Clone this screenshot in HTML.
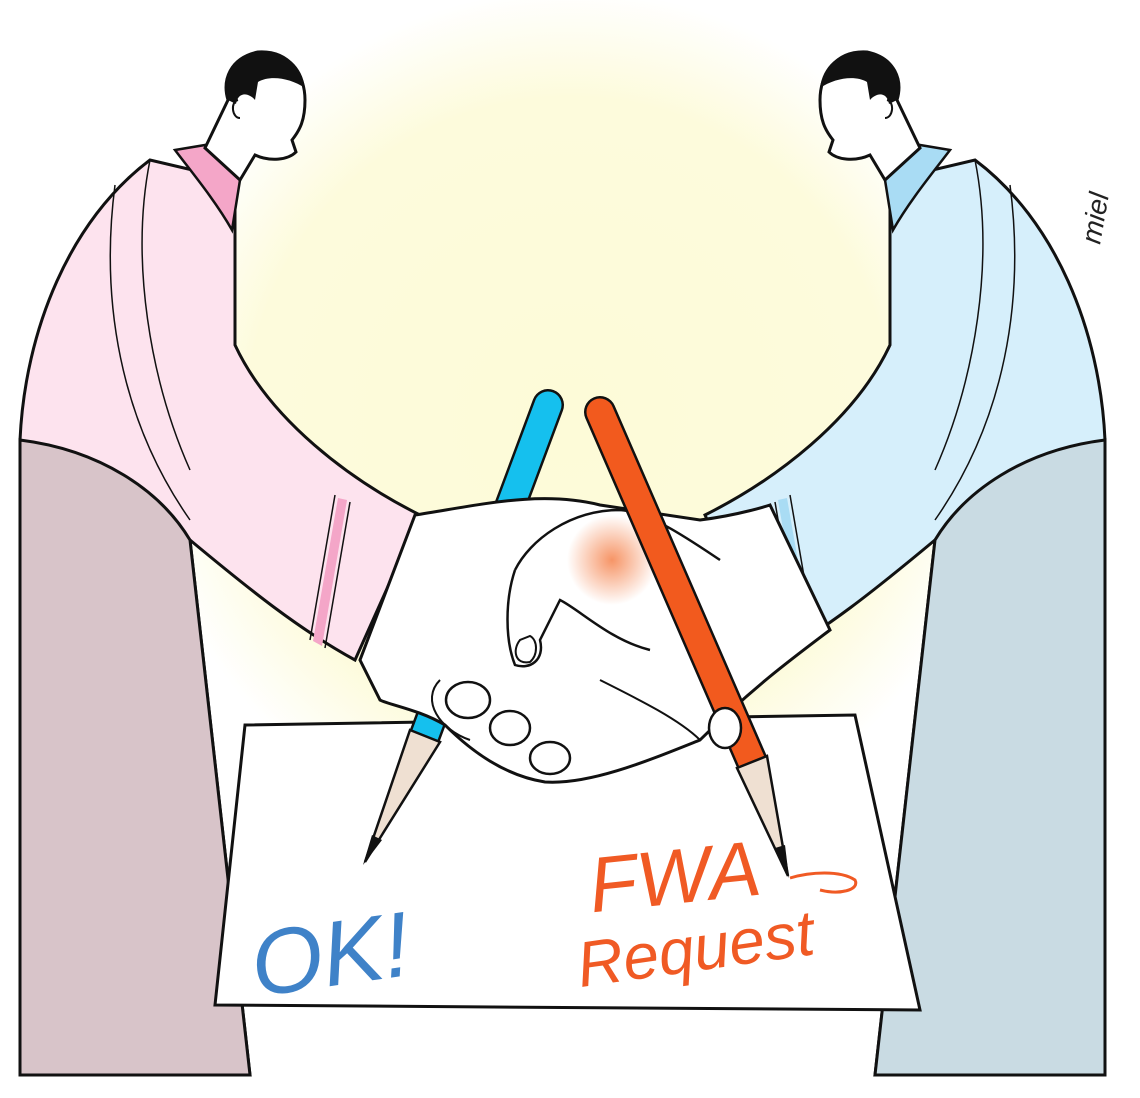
<!DOCTYPE html>
<html><head><meta charset="utf-8"><style>
html,body{margin:0;padding:0;background:#fff;}
svg{display:block;}
</style></head><body>
<svg width="1140" height="1098" viewBox="0 0 1140 1098" xmlns="http://www.w3.org/2000/svg">
<defs>
<radialGradient id="glow" cx="570" cy="420" r="430" gradientUnits="userSpaceOnUse">
<stop offset="0" stop-color="#fdfbd8"/><stop offset="0.75" stop-color="#fdfbdc"/><stop offset="1" stop-color="#ffffff"/>
</radialGradient>
<radialGradient id="og" cx="612" cy="560" r="45" gradientUnits="userSpaceOnUse">
<stop offset="0" stop-color="#f47a40" stop-opacity="0.8"/><stop offset="1" stop-color="#f47a40" stop-opacity="0"/>
</radialGradient>
<g id="fig">
<path d="M150,160 C70,220 25,330 20,440 L20,1075 L250,1075 L190,540 C250,590 300,630 355,660 L420,515 C350,480 270,420 235,345 L235,180 Z" fill="var(--top)" stroke="#111" stroke-width="3"/>
<path d="M20,440 C100,450 160,490 190,540 L250,1075 L20,1075 Z" fill="var(--low)" stroke="#111" stroke-width="3"/>
<path d="M150,160 C130,260 150,380 190,470" fill="none" stroke="#111" stroke-width="1.5"/>
<path d="M115,185 C100,300 120,420 190,520" fill="none" stroke="#111" stroke-width="1.5"/>
<path d="M335,495 L310,640 M350,502 L325,648" stroke="#111" stroke-width="1.5"/>
<path d="M338,498 L313,641 L322,646 L347,500 Z" fill="var(--col)"/>
<path d="M175,150 L205,145 L240,180 L232,230 C215,200 190,170 175,150 Z" fill="var(--col)" stroke="#111" stroke-width="2.5"/>
<path d="M205,148 L228,100 C222,80 230,58 258,52 C290,50 305,75 305,100 C305,120 300,130 292,140 L296,152 C288,160 270,162 255,155 L240,180 Z" fill="#fff" stroke="#111" stroke-width="3"/>
<path d="M228,100 C222,75 232,55 258,52 C285,50 302,65 305,88 C290,78 270,75 258,82 L255,100 C248,92 238,92 236,104 Z" fill="#111"/>
<path d="M238,100 C230,102 232,118 240,118" fill="none" stroke="#111" stroke-width="2"/>
</g>
</defs>
<rect width="1140" height="1098" fill="#fff"/>
<circle cx="570" cy="420" r="430" fill="url(#glow)"/>
<use href="#fig" style="--top:#fde3ee;--low:#d8c4c9;--col:#f4a6c8"/>
<use href="#fig" transform="translate(1125,0) scale(-1,1)" style="--top:#d6effb;--low:#c9dbe3;--col:#a9dcf4"/>
<!-- paper -->
<path d="M245,725 L855,715 L920,1010 L215,1005 Z" fill="#fff" stroke="#111" stroke-width="3"/>
<!-- blue pencil -->
<line x1="548" y1="405" x2="425" y2="735" stroke="#111" stroke-width="32" stroke-linecap="round"/>
<line x1="548" y1="405" x2="425" y2="735" stroke="#15c0ee" stroke-width="27" stroke-linecap="round"/>
<path d="M410,730 L440,742 L365,862 Z" fill="#efe0d2" stroke="#111" stroke-width="2.5"/>
<path d="M372,835 L382,840 L363,865 Z" fill="#111"/>
<!-- hands -->
<path d="M415,515 C480,505 540,490 600,505 L700,520 C740,515 770,505 770,505 L830,630 C790,660 750,690 700,740 C650,760 590,785 545,782 C500,775 465,745 445,725 C420,710 390,705 380,700 L360,660 Z" fill="#fff" stroke="#111" stroke-width="3"/>
<path d="M515,570 C530,540 570,510 620,510 C650,512 690,540 720,560" fill="none" stroke="#111" stroke-width="2.5"/>
<path d="M515,570 C505,600 505,640 515,665 C530,670 545,660 540,640 L560,600 C580,610 610,640 650,650" fill="none" stroke="#111" stroke-width="2.5"/>
<path d="M520,640 C512,650 515,665 530,662 C538,655 538,640 530,636 Z" fill="#fff" stroke="#111" stroke-width="2"/>
<ellipse cx="468" cy="700" rx="22" ry="18" fill="#fff" stroke="#111" stroke-width="2.5"/>
<ellipse cx="510" cy="728" rx="20" ry="17" fill="#fff" stroke="#111" stroke-width="2.5"/>
<ellipse cx="550" cy="758" rx="20" ry="16" fill="#fff" stroke="#111" stroke-width="2.5"/>
<path d="M600,680 C640,700 680,720 700,740" fill="none" stroke="#111" stroke-width="2"/>
<path d="M440,680 C420,700 440,730 470,740" fill="none" stroke="#111" stroke-width="2"/>
<circle cx="612" cy="560" r="45" fill="url(#og)"/>
<!-- orange pencil -->
<line x1="600" y1="412" x2="752" y2="762" stroke="#111" stroke-width="32" stroke-linecap="round"/>
<line x1="600" y1="412" x2="752" y2="762" stroke="#f25a1e" stroke-width="27" stroke-linecap="round"/>
<path d="M737,768 L767,756 L788,876 Z" fill="#efe0d2" stroke="#111" stroke-width="2.5"/>
<path d="M775,848 L785,845 L789,878 Z" fill="#111"/>
<ellipse cx="725" cy="728" rx="16" ry="20" fill="#fff" stroke="#111" stroke-width="2.5"/>
<!-- texts -->
<text x="250" y="990" font-family="Liberation Sans, sans-serif" font-style="italic" font-size="92" fill="#3f82c8" transform="rotate(-8 300 950)">OK!</text>
<text x="588" y="905" font-family="Liberation Sans, sans-serif" font-style="italic" font-size="78" fill="#f05a24" transform="rotate(-6 660 870)">FWA</text>
<text x="575" y="970" font-family="Liberation Sans, sans-serif" font-style="italic" font-size="64" fill="#f05a24" transform="rotate(-8 700 940)">Request</text>
<path d="M790,878 C810,872 840,870 855,880 C860,890 840,895 820,890" fill="none" stroke="#f05a24" stroke-width="3"/>
<text x="1100" y="245" font-family="Liberation Sans, sans-serif" font-style="italic" font-size="28" fill="#222" transform="rotate(-80 1100 245)">miel</text>
</svg>
</body></html>
